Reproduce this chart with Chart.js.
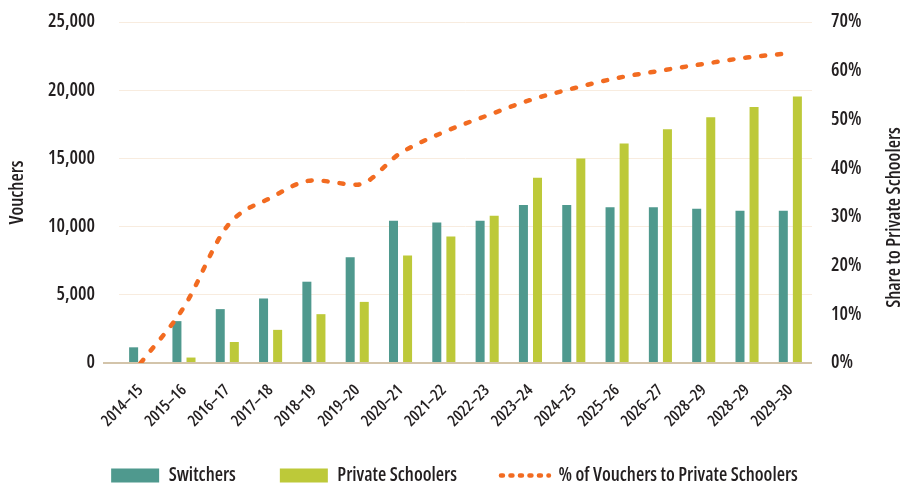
<!DOCTYPE html>
<html>
<head>
<meta charset="utf-8">
<script src="https://cdn.jsdelivr.net/npm/chart.js@4.4.1/dist/chart.umd.min.js"></script>
<style>
  html, body { margin: 0; padding: 0; background: #fff; }
  #wrap { width: 907px; height: 487px; }
</style>
</head>
<body>
<div id="wrap"><canvas id="myChart"></canvas></div>
<script>
const years = ['2014–15', '2015–16', '2016–17', '2017–18', '2018–19', '2019–20', '2020–21', '2021–22',
  '2022–23', '2023–24', '2024–25', '2025–26', '2026–27', '2028–29', '2028–29', '2029–30'];
const switchers = [1150, 3070, 3950, 4730, 5960, 7750, 10420, 10300, 10430, 11580, 11580, 11410, 11410, 11310, 11160, 11160];
const privateSchoolers = [0, 400, 1540, 2430, 3580, 4480, 7890, 9280, 10790, 13580, 15000, 16100, 17140, 18020, 18770, 19530];
const shareToPrivate = [0, 11.5, 28.1, 33.9, 37.5, 36.6, 43.1, 47.4, 50.8, 54.0, 56.4, 58.5, 60.0, 61.4, 62.7, 63.6];
const voucherTicks = [0, 5000, 10000, 15000, 20000, 25000];
const shareTicks = [0, 10, 20, 30, 40, 50, 60, 70];

const teal = '#4f998e';
const lime = '#bdc939';
const orange = '#f26b21';
const gridColor = '#f8ecdf';
const baseColor = '#d3c4aa';
const textColor = '#231f20';
const rightTitle = 'Share to Private Schoolers';

// Open Sans is variable: "condensed" in the weight slot gives a Myriad-like narrow face
Chart.defaults.font.family = "'Open Sans', sans-serif";
Chart.defaults.font.weight = '600 condensed';
Chart.defaults.color = textColor;

// right axis title reads bottom-to-top, which Chart.js titles can't do on a right axis
const rightTitlePlugin = {
  id: 'rightTitle',
  afterDraw(chart) {
    const { ctx, chartArea } = chart;
    ctx.save();
    ctx.translate(chart.width - 12, (chartArea.top + chartArea.bottom) / 2 + 25);
    ctx.rotate(-Math.PI / 2);
    ctx.font = "600 condensed 19px 'Open Sans', sans-serif";
    ctx.fillStyle = textColor;
    ctx.textAlign = 'center';
    ctx.textBaseline = 'middle';
    ctx.fillText(rightTitle, 0, 0);
    ctx.restore();
  }
};

const chartData = {
  labels: years,
  datasets: [
    {
      type: 'bar',
      label: 'Switchers',
      data: switchers,
      backgroundColor: teal,
      yAxisID: 'y',
      categoryPercentage: 0.65,
      barPercentage: 0.64,
      order: 1
    },
    {
      type: 'bar',
      label: 'Private Schoolers',
      data: privateSchoolers,
      backgroundColor: lime,
      yAxisID: 'y',
      categoryPercentage: 0.65,
      barPercentage: 0.64,
      order: 1
    },
    {
      type: 'line',
      label: '% of Vouchers to Private Schoolers',
      data: shareToPrivate,
      borderColor: orange,
      backgroundColor: orange,
      borderWidth: 4.5,
      borderDash: [4, 12],
      borderCapStyle: 'round',
      pointRadius: 0,
      cubicInterpolationMode: 'monotone',
      yAxisID: 'y1',
      order: 0
    }
  ]
};

const chartConfig = {
  type: 'bar',
  data: chartData,
  plugins: [rightTitlePlugin],
  options: {
    responsive: true,
    maintainAspectRatio: false,
    animation: false,
    layout: { padding: { top: 22, left: 6, right: 4, bottom: -8 } },
    plugins: {
      tooltip: { enabled: false },
      legend: {
        position: 'bottom',
        labels: {
          usePointStyle: true,
          pointStyleWidth: 48,
          boxHeight: 14,
          padding: 44,
          font: { size: 19 },
          color: textColor,
          sort: (a, b) => a.datasetIndex - b.datasetIndex,
          generateLabels: chart => {
            const items = Chart.defaults.plugins.legend.labels.generateLabels(chart);
            return items.map(item => {
              if (item.datasetIndex < 2) {
                item.pointStyle = 'rect';
                item.lineWidth = 0;
              } else {
                item.pointStyle = 'line';
                item.lineCap = 'round';
                item.lineWidth = 4.5;
                item.lineDash = [2, 7.5];
              }
              return item;
            });
          }
        }
      }
    },
    scales: {
      x: {
        afterFit: scale => { scale.height = 59; },
        // rotated labels run a little past the axis box; don't clip them
        afterUpdate: scale => { scale._computeLabelArea = () => undefined; },
        grid: { display: false },
        border: { display: false },
        ticks: {
          minRotation: 45,
          maxRotation: 45,
          padding: 10,
          font: { size: 16 },
          color: textColor
        }
      },
      y: {
        position: 'left',
        min: 0,
        max: 25000,
        afterBuildTicks: scale => { scale.ticks = voucherTicks.map(v => ({ value: v })); },
        afterFit: scale => { scale.width = 113; },
        border: { display: false },
        grid: {
          color: ctx => (ctx.tick && ctx.tick.value === 0 ? baseColor : gridColor),
          tickColor: ctx => (ctx.tick && ctx.tick.value === 0 ? baseColor : 'rgba(0,0,0,0)'),
          lineWidth: ctx => (ctx.tick && ctx.tick.value === 0 ? 2 : 1),
          tickLength: 16
        },
        ticks: {
          padding: 8,
          font: { size: 19 },
          color: textColor,
          callback: v => v.toLocaleString('en-US')
        },
        title: {
          display: true,
          text: 'Vouchers',
          font: { size: 19 },
          color: textColor,
          padding: { top: 0, bottom: 1 }
        }
      },
      y1: {
        position: 'right',
        min: 0,
        max: 70,
        afterBuildTicks: scale => { scale.ticks = shareTicks.map(v => ({ value: v })); },
        afterFit: scale => { scale.width = 91; },
        border: { display: false },
        grid: { drawOnChartArea: false, tickLength: 19, tickColor: 'rgba(0,0,0,0)' },
        ticks: {
          padding: 0,
          font: { size: 19 },
          color: textColor,
          callback: v => v + '%'
        }
      }
    }
  }
};

const chartCanvas = document.getElementById('myChart');
const chartContext = chartCanvas.getContext('2d');
const myChart = new Chart(chartContext, chartConfig);
</script>
</body>
</html>
